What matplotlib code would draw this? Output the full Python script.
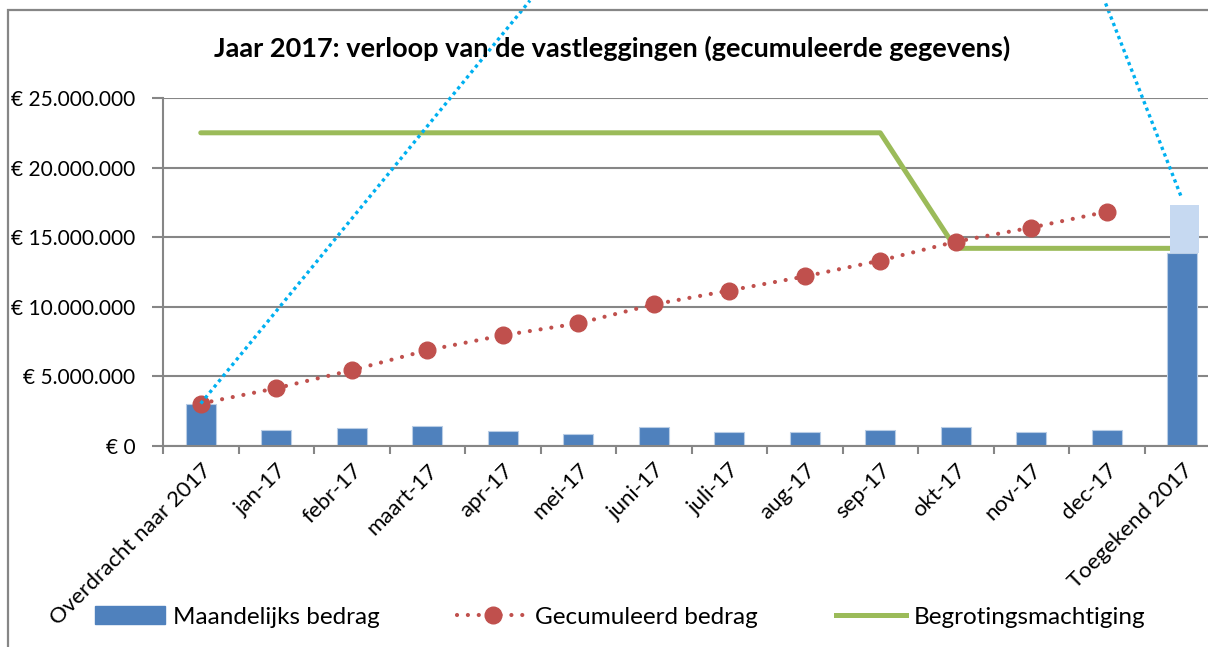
import matplotlib
matplotlib.use("Agg")
import matplotlib.pyplot as plt
from matplotlib.patches import Rectangle
from matplotlib.lines import Line2D
from matplotlib.ticker import FuncFormatter, MultipleLocator
from matplotlib.transforms import ScaledTranslation

plt.rcParams['font.family'] = ['Lato', 'DejaVu Sans']

# Gegevens (in euro)
categories = ['Overdracht naar 2017', 'jan-17', 'febr-17', 'maart-17', 'apr-17', 'mei-17',
              'juni-17', 'juli-17', 'aug-17', 'sep-17', 'okt-17', 'nov-17', 'dec-17',
              'Toegekend 2017']
maandelijks = [3.02e6, 1.13e6, 1.28e6, 1.42e6, 1.07e6, 0.87e6, 1.38e6, 0.99e6,
               0.97e6, 1.12e6, 1.33e6, 1.01e6, 1.12e6, 13.83e6]
toegekend_extra = 3.51e6  # lichtblauw deel bovenop laatste kolom
gecumuleerd = [3.05e6, 4.15e6, 5.44e6, 6.88e6, 7.95e6, 8.81e6, 10.17e6, 11.17e6,
               12.18e6, 13.32e6, 14.68e6, 15.69e6, 16.83e6]
begroting = [22.5e6] * 10 + [14.2e6] * 4

# Zoom-lijnen (blauw gestippeld) : eindpunten boven de grafiek
zoom_top_x = [4.36, 11.97]
zoom_top_y = 32e6

BLUE = '#4F81BD'
LIGHT = '#C6D9F1'
RED = '#C0504D'
GREEN = '#9BBB59'
CYAN = '#00B0F0'
GRAY = '#868686'

fig = plt.figure(figsize=(12.08, 6.47), dpi=100)
ax = fig.add_axes([163 / 1208, 1 - 446 / 647, (1220 - 163) / 1208, (446 - 98) / 647])

x = list(range(len(categories)))

ax.bar(x, maandelijks, width=0.4, color=BLUE, edgecolor='#B9CDE5', linewidth=0.8, zorder=2)
ax.plot(x, begroting, color=GREEN, lw=3.6, solid_capstyle='round', zorder=3)
ax.bar([x[-1] + 0.03], [toegekend_extra], bottom=[maandelijks[-1]], width=0.38,
       color=LIGHT, zorder=4)
ax.plot(x[:-1], gecumuleerd, color=RED, lw=3, linestyle=(0, (0.01, 2.6)),
        dash_capstyle='round', zorder=5)
ax.plot(x[:-1], gecumuleerd, 'o', color=RED, ms=12, zorder=5)

# blauwe stippellijnen
ax.plot([0, zoom_top_x[0]], [gecumuleerd[0], zoom_top_y], color=CYAN, lw=2.4,
        linestyle=(0, (1, 1.1)), clip_on=False, zorder=6)
ax.plot([x[-1] - 0.02, zoom_top_x[1]],
        [maandelijks[-1] + toegekend_extra + 0.65e6, zoom_top_y], color=CYAN, lw=2.4,
        linestyle=(0, (1, 1.1)), clip_on=False, zorder=6)

ax.set_xlim(-0.5, len(categories) - 0.5)
ax.set_ylim(0, 25e6)
ax.yaxis.set_major_locator(MultipleLocator(5e6))
ax.yaxis.set_major_formatter(FuncFormatter(
    lambda v, p: '€ ' + f'{int(v):,}'.replace(',', '.')))
ax.grid(axis='y', color=GRAY, lw=1.5, zorder=0)
ax.set_axisbelow(True)

ax.set_xticks(x)
ax.set_xticklabels(categories, rotation=45, ha='right', va='top',
                   rotation_mode='anchor', fontsize=16)
shift = ScaledTranslation(10 / 100, 0, fig.dpi_scale_trans)
for lab in ax.get_xticklabels():
    lab.set_transform(lab.get_transform() + shift)
ax.set_xticks([i - 0.5 for i in x], minor=True)
ax.tick_params(axis='x', which='major', length=0, pad=10)
ax.tick_params(axis='x', which='minor', length=6, width=1.5, color=GRAY, direction='out')
ax.tick_params(axis='y', length=8, width=1.5, color=GRAY, labelsize=15, pad=12)

for s in ['top', 'right']:
    ax.spines[s].set_visible(False)
for s in ['left', 'bottom']:
    ax.spines[s].set_color(GRAY)
    ax.spines[s].set_linewidth(1.5)

fig.text(612 / 1208, 1 - 48 / 647,
         'Jaar 2017: verloop van de vastleggingen (gecumuleerde gegevens)',
         ha='center', va='center', fontsize=19.5, fontweight='bold')

# kader van de grafiek
fig.patches.append(Rectangle((8 / 1208, -0.1), 1.1, 1.1 - 10 / 647, transform=fig.transFigure,
                             fill=False, edgecolor=GRAY, lw=1.6))

handles = [
    Rectangle((0, 0), 1, 1, color=BLUE),
    Line2D([], [], color=RED, lw=3, linestyle=(0, (0.01, 2.6)), dash_capstyle='round',
           marker='o', ms=12),
    Line2D([], [], color=GREEN, lw=3.6),
]
fig.legend(handles, ['Maandelijks bedrag', 'Gecumuleerd bedrag', 'Begrotingsmachtiging'],
           loc='center', bbox_to_anchor=(620 / 1208, 1 - 617 / 647), ncol=3, frameon=False,
           fontsize=17.5, handlelength=2.9, handletextpad=0.3, columnspacing=3.2,
           handleheight=0.7)

fig.savefig('out.png', dpi=100)
